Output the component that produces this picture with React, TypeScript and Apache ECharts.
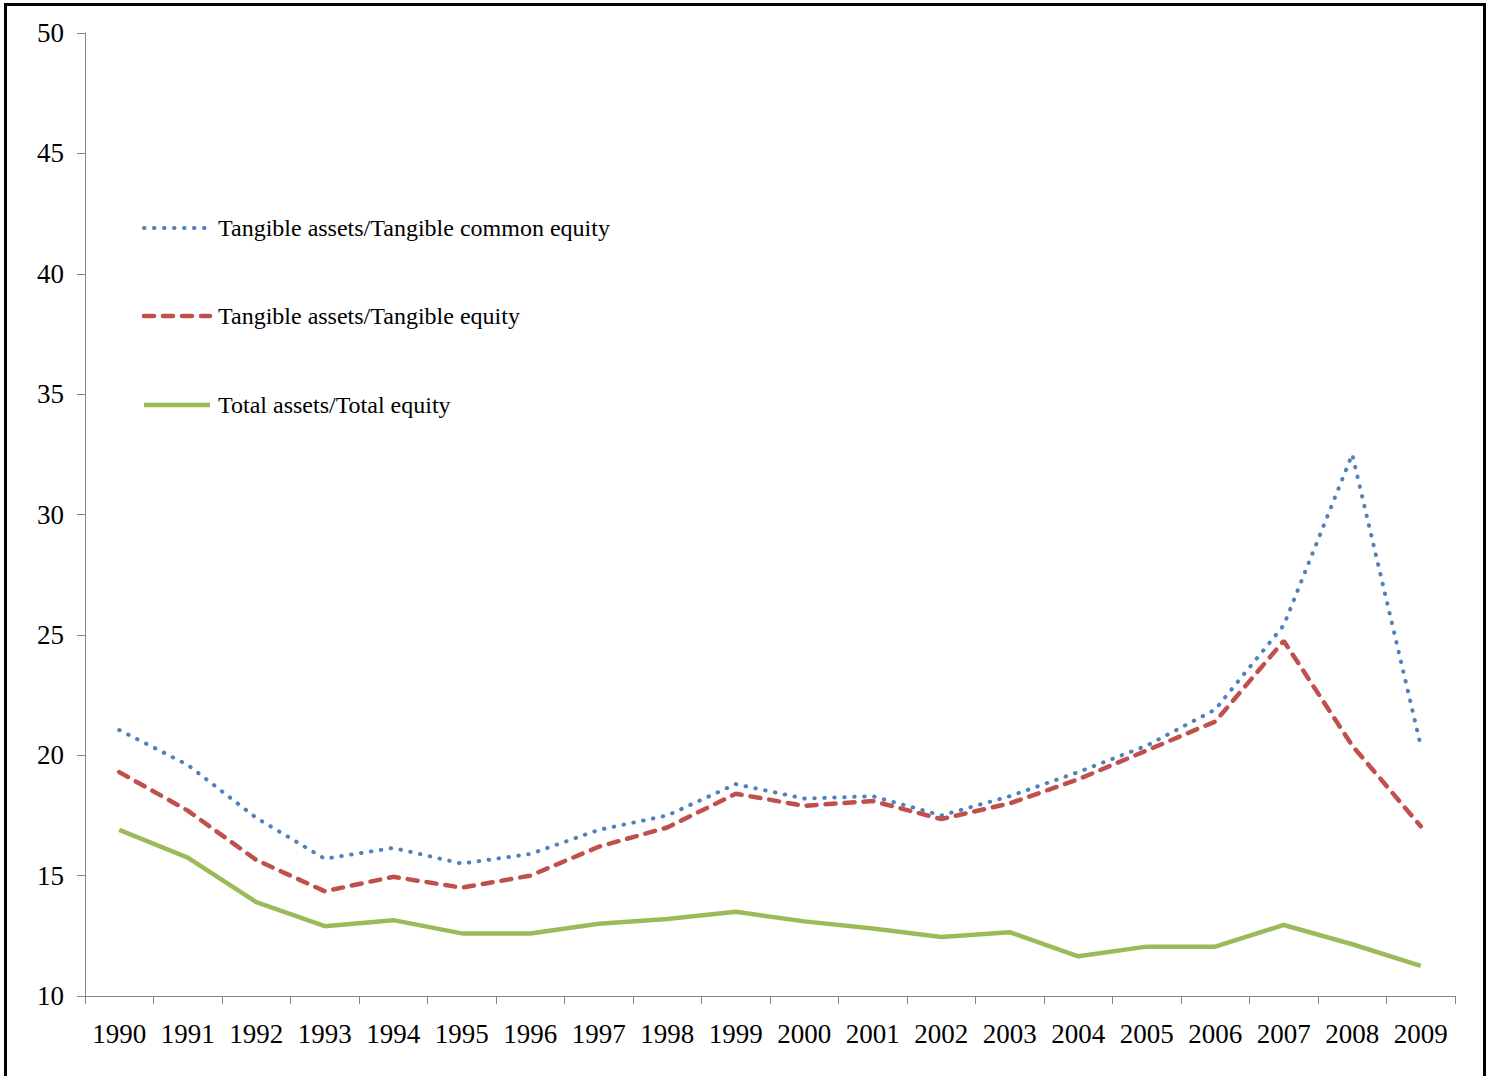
import React, { useEffect, useRef } from "react";
import * as echarts from "echarts";

const years = ["1990","1991","1992","1993","1994","1995","1996","1997","1998","1999","2000","2001","2002","2003","2004","2005","2006","2007","2008","2009"];
const tangibleCommon = [21.05, 19.6, 17.4, 15.7, 16.15, 15.5, 15.9, 16.9, 17.5, 18.8, 18.2, 18.3, 17.5, 18.3, 19.3, 20.4, 21.9, 25.4, 32.5, 20.4];
const tangibleEquity = [19.3, 17.7, 15.65, 14.35, 14.95, 14.5, 15.0, 16.2, 17.0, 18.4, 17.9, 18.1, 17.35, 18.0, 19.0, 20.2, 21.4, 24.75, 20.4, 17.05];
const totalEquity = [16.9, 15.75, 13.9, 12.9, 13.15, 12.6, 12.6, 13.0, 13.2, 13.5, 13.1, 12.8, 12.45, 12.65, 11.65, 12.05, 12.05, 12.95, 12.15, 11.25];
const seriesNames = ["Tangible assets/Tangible common equity", "Tangible assets/Tangible equity", "Total assets/Total equity"];
const seriesColors = ["#4F81BD", "#C0504D", "#9BBB59"];

const FONT = "'Liberation Serif', 'Times New Roman', serif";

const lineStyles: any[] = [
  { width: 4, type: [0.5, 9.5], cap: "round" },
  { width: 4.5, type: [10, 9], cap: "round" },
  { width: 4.5, type: "solid", cap: "butt" },
];

export default function App() {
  const ref = useRef<HTMLDivElement>(null);
  useEffect(() => {
    if (!ref.current) return;
    const chart = echarts.init(ref.current, undefined, { renderer: "svg" });
    const axisColor = "#868686";
    const legendY = [228, 316, 405];
    const legendGraphics: any[] = [];
    seriesNames.forEach((name, i) => {
      const ls = lineStyles[i];
      legendGraphics.push({
        type: "line",
        shape: { x1: 144, y1: legendY[i], x2: 210, y2: legendY[i] },
        style: {
          stroke: seriesColors[i],
          lineWidth: ls.width,
          lineDash: Array.isArray(ls.type) ? ls.type : null,
          lineCap: ls.cap,
        },
      });
      legendGraphics.push({
        type: "text",
        x: 218,
        y: legendY[i],
        style: {
          text: name,
          fontFamily: FONT,
          fontSize: 24,
          fill: "#000",
          verticalAlign: "middle",
          align: "left",
        },
      });
    });
    chart.setOption({
      animation: false,
      backgroundColor: "#ffffff",
      grid: { left: 85, right: 34, top: 33, bottom: 80 },
      graphic: legendGraphics,
      xAxis: {
        type: "category",
        data: years,
        boundaryGap: true,
        axisLine: { lineStyle: { color: axisColor, width: 1 } },
        axisTick: { show: true, length: 8, lineStyle: { color: axisColor } },
        axisLabel: { fontFamily: FONT, fontSize: 27, color: "#000", margin: 24, interval: 0 },
        splitLine: { show: false },
      },
      yAxis: {
        type: "value",
        min: 10,
        max: 50,
        interval: 5,
        axisLine: { show: true, lineStyle: { color: axisColor, width: 1 } },
        axisTick: { show: true, length: 8, lineStyle: { color: axisColor } },
        axisLabel: { fontFamily: FONT, fontSize: 27, color: "#000", margin: 21 },
        splitLine: { show: false },
      },
      series: [tangibleCommon, tangibleEquity, totalEquity].map((d, i) => ({
        name: seriesNames[i],
        type: "line",
        data: d,
        symbol: "none",
        color: seriesColors[i],
        lineStyle: { color: seriesColors[i], ...lineStyles[i] },
      })),
    });
    return () => chart.dispose();
  }, []);
  return (
    <div style={{ position: "absolute", left: 0, top: 0, width: 1489, height: 1076, overflow: "hidden", background: "#fff" }}>
      <div ref={ref} style={{ position: "absolute", left: 0, top: 0, width: 1489, height: 1076 }} />
      <div style={{ position: "absolute", left: 4, top: 3, width: 1476, height: 1100, border: "3px solid #000", pointerEvents: "none" }} />
    </div>
  );
}
